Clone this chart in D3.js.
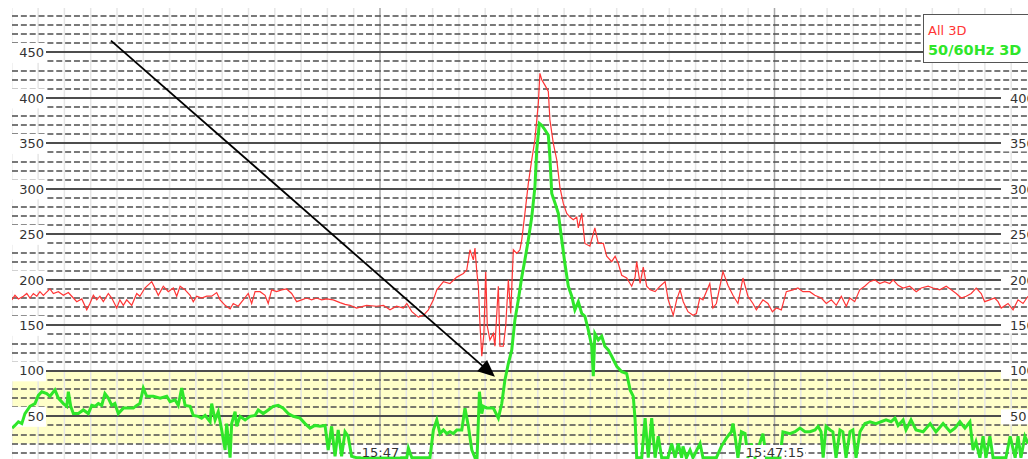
<!DOCTYPE html>
<html>
<head>
<meta charset="utf-8">
<script src="https://cdn.jsdelivr.net/npm/d3@7"></script>
<style>
  html, body { margin: 0; padding: 0; background: #fff; overflow: hidden; }
  text { font-family: "DejaVu Sans", Verdana, sans-serif; }
</style>
</head>
<body>
<svg id="chart" width="1028" height="459"></svg>
<script>
// ---- data ---------------------------------------------------------------
const parseClock = d3.timeParse("%H:%M:%S");
const windowStart = "15:46:46";          // left edge of the trace window
const windowSeconds = 39;                // length of the trace window

const seriesNames = ["All 3D", "50/60Hz 3D"];
const seriesColors = ["#ff3535", "#2fe62a"];

const valueTicks = [50, 100, 150, 200, 250, 300, 350, 400, 450];
const valueTickLabels = ["50", "100", "150", "200", "250", "300", "350", "400", "450"];
const timeTicks = ["15:47:00", "15:47:15"];
const timeTickLabels = ["15:47", "15:47:15"];
const limitBand = [20, 100];             // shaded band of the 50/60Hz level

// [seconds after windowStart, level]
const all3D = [
  [0,178],[0.12,183],[0.25,179],[0.44,182],[0.57,185],[0.69,180],[0.82,185],[0.95,182],[1.07,187],[1.20,183],
  [1.45,190],[1.58,185],[1.77,187],[1.96,183],[2.15,186],[2.28,182],[2.47,176],[2.66,179],[2.85,167],[2.97,174],
  [3.10,183],[3.23,178],[3.35,182],[3.48,176],[3.67,185],[3.80,180],[3.99,169],[4.11,178],[4.24,172],[4.37,178],
  [4.56,172],[4.75,185],[4.87,182],[5.06,191],[5.32,198],[5.44,191],[5.57,183],[5.76,193],[5.95,187],[6.14,191],
  [6.27,182],[6.40,193],[6.59,189],[6.78,183],[6.90,176],[7.03,182],[7.22,180],[7.41,182],[7.60,182],[7.79,186],
  [7.92,178],[8.11,172],[8.30,168],[8.42,174],[8.61,171],[8.80,178],[8.99,185],[9.12,174],[9.25,187],[9.44,187],
  [9.63,183],[9.75,174],[9.88,189],[10.07,187],[10.26,189],[10.45,190],[10.64,185],[10.83,176],[11.02,178],[11.21,180],
  [11.40,178],[11.59,180],[11.78,178],[11.97,179],[12.22,178],[12.48,175],[12.67,173],[12.86,172],[13.11,169],[13.49,172],
  [13.87,171],[14.13,172],[14.38,167],[14.63,171],[14.89,169],[15.02,174],[15.21,165],[15.46,159],[15.65,161],[15.84,167],
  [16.03,178],[16.16,189],[16.41,198],[16.66,196],[16.92,203],[17.17,207],[17.30,211],[17.42,233],[17.55,222],[17.61,235],
  [17.68,209],[17.74,193],[17.80,152],[17.87,116],[17.95,141],[18.02,209],[18.08,149],[18.18,134],[18.31,141],[18.37,127],
  [18.50,193],[18.56,127],[18.69,127],[18.78,149],[18.88,200],[18.97,163],[19.07,233],[19.20,229],[19.32,233],[19.39,244],
  [19.51,273],[19.64,306],[19.77,332],[19.89,354],[20.02,394],[20.08,427],[20.15,420],[20.27,414],[20.40,407],[20.46,376],
  [20.59,350],[20.72,332],[20.84,302],[20.97,284],[21.10,273],[21.22,269],[21.35,266],[21.48,269],[21.54,257],[21.67,273],
  [21.79,240],[21.98,237],[22.17,257],[22.30,240],[22.49,240],[22.62,226],[22.81,220],[22.94,226],[23.06,218],[23.19,205],
  [23.38,202],[23.57,193],[23.70,203],[23.76,220],[23.89,196],[24.01,214],[24.14,193],[24.27,189],[24.46,187],[24.65,193],
  [24.84,198],[24.96,178],[25.15,161],[25.28,178],[25.41,189],[25.53,176],[25.71,165],[25.90,161],[26.03,163],[26.16,180],
  [26.28,178],[26.54,196],[26.66,169],[26.79,174],[27.04,209],[27.23,194],[27.42,183],[27.61,174],[27.80,202],[27.99,182],
  [28.18,174],[28.31,167],[28.56,178],[28.75,174],[28.92,165],[29.07,169],[29.26,167],[29.45,187],[29.70,189],[29.89,191],
  [30.08,187],[30.34,187],[30.53,183],[30.78,180],[30.97,174],[31.16,178],[31.35,172],[31.54,182],[31.73,171],[31.86,180],
  [32.05,176],[32.24,189],[32.43,193],[32.62,198],[32.81,200],[33.00,196],[33.19,198],[33.38,196],[33.51,200],[33.70,194],
  [33.89,191],[34.14,193],[34.39,187],[34.58,191],[34.84,193],[35.03,191],[35.28,189],[35.53,193],[35.72,189],[35.91,185],
  [36.10,180],[36.29,182],[36.48,185],[36.67,191],[36.86,185],[36.99,176],[37.18,178],[37.37,180],[37.50,176],[37.62,169],
  [37.88,174],[38.07,167],[38.26,178],[38.45,174],[38.64,182]
];

const hum3D = [
  [0.01,37],[0.12,40],[0.25,44],[0.38,42],[0.50,53],[0.69,61],[0.88,64],[1.01,73],[1.14,77],[1.33,75],
  [1.45,72],[1.64,79],[1.77,70],[1.96,64],[2.09,61],[2.15,77],[2.24,61],[2.34,53],[2.53,53],[2.72,57],
  [2.91,53],[3.04,62],[3.16,61],[3.29,64],[3.42,62],[3.54,75],[3.67,70],[3.80,62],[3.92,64],[4.05,53],
  [4.24,59],[4.43,59],[4.62,59],[4.75,62],[4.87,64],[5.00,81],[5.13,72],[5.38,72],[5.64,70],[5.89,72],
  [6.02,66],[6.21,68],[6.33,62],[6.46,81],[6.59,62],[6.78,61],[6.90,51],[7.09,50],[7.22,48],[7.35,51],
  [7.54,44],[7.60,64],[7.73,46],[7.85,55],[7.98,35],[8.11,13],[8.17,42],[8.30,4.5],[8.36,42],[8.49,55],
  [8.55,39],[8.68,50],[8.87,46],[9.06,50],[9.25,51],[9.37,57],[9.56,53],[9.75,57],[9.94,61],[10.13,62],
  [10.32,59],[10.51,53],[10.70,50],[10.96,48],[11.15,42],[11.34,37],[11.53,40],[11.72,39],[11.91,40],[12.03,13],
  [12.16,39],[12.29,6],[12.41,35],[12.54,6],[12.67,33],[12.79,28],[12.92,6],[13.11,4.5],[15.02,4.5],[15.08,15],
  [15.21,4.5],[15.90,4.5],[16.03,35],[16.16,46],[16.28,31],[16.41,35],[16.54,31],[16.66,33],[16.79,31],[16.92,35],
  [17.11,35],[17.23,59],[17.36,39],[17.49,13],[17.61,4.5],[17.69,4.5],[17.78,77],[17.87,53],[17.93,61],[18.06,59],
  [18.31,59],[18.50,48],[18.63,64],[18.75,90],[18.88,108],[19.01,123],[19.13,156],[19.26,178],[19.39,203],[19.51,222],
  [19.64,244],[19.77,269],[19.89,302],[19.96,343],[20.06,372],[20.15,370],[20.27,365],[20.40,359],[20.46,335],[20.53,295],
  [20.66,284],[20.78,273],[20.91,244],[21.03,218],[21.16,193],[21.29,182],[21.41,167],[21.54,176],[21.67,163],[21.79,160],
  [21.92,145],[22.05,127],[22.11,94],[22.17,141],[22.30,134],[22.43,138],[22.55,127],[22.68,123],[22.81,116],[23.00,105],
  [23.19,99],[23.38,97],[23.51,79],[23.63,72],[23.70,46],[23.76,4.5],[23.95,4.5],[24.08,48],[24.20,4.5],[24.33,48],
  [24.46,4.5],[24.58,28],[24.71,4.5],[24.95,4.5],[25.09,20],[25.22,4.5],[25.34,20],[25.47,4.5],[25.52,17],[25.65,4.5],
  [25.79,13],[25.90,4.5],[26.17,20],[26.28,4.5],[26.79,4.5],[26.98,17],[27.17,26],[27.36,33],[27.42,42],[27.50,28],
  [27.61,4.5],[27.74,33],[27.88,31],[27.99,4.5],[28.12,20],[28.26,4.5],[28.56,31],[28.69,4.5],[29.21,4.5],[29.32,33],
  [29.59,31],[29.78,33],[29.97,37],[30.16,33],[30.35,33],[30.54,35],[30.66,39],[30.77,33],[30.85,4.5],[30.96,39],
  [31.11,35],[31.22,33],[31.34,4.5],[31.49,35],[31.60,33],[31.72,4.5],[31.87,33],[31.98,35],[32.10,4.5],[32.25,33],
  [32.44,42],[32.63,44],[32.86,42],[33.05,44],[33.24,46],[33.43,44],[33.58,48],[33.70,40],[33.89,46],[34.00,35],
  [34.19,46],[34.38,35],[34.65,33],[34.92,42],[35.14,33],[35.41,42],[35.68,33],[35.86,37],[36.05,44],[36.24,37],
  [36.43,44],[36.55,13],[36.66,22],[36.81,4.5],[36.93,28],[37.04,4.5],[37.19,28],[37.31,4.5],[37.80,4.5],[37.96,28],
  [38.15,4.5],[38.26,28],[38.37,4.5],[38.52,28],[38.64,20]
];

// annotation arrow: [seconds after windowStart, level]
const arrowFrom = [3.77, 463];
const arrowTo = [18.37, 93.5];

// ---- layout -------------------------------------------------------------
const W = 1028, H = 459;
const plot = { left: 12, top: 8, right: 1028, bottom: 459 };
const secPx = 26.3;

const t0 = parseClock(windowStart);
const at = s => new Date(+t0 + s * 1000);

const x = d3.scaleTime()
  .domain([t0, at(windowSeconds)])
  .range([11.8, 11.8 + windowSeconds * secPx]);
const y = d3.scaleLinear().domain([0, 500]).range([461.8, 6.9]);

const svg = d3.select("#chart");

svg.append("defs").append("clipPath").attr("id", "plotClip")
  .append("rect")
  .attr("x", plot.left).attr("y", plot.top)
  .attr("width", plot.right - plot.left).attr("height", plot.bottom - plot.top);

const grid = svg.append("g").attr("clip-path", "url(#plotClip)");

// shaded limit band
grid.append("rect")
  .attr("x", plot.left).attr("width", plot.right - plot.left)
  .attr("y", y(limitBand[1])).attr("height", y(limitBand[0]) - y(limitBand[1]))
  .attr("fill", "#ffffc9");

// vertical grid: every second faint, every 15 s darker
const seconds = x.ticks(d3.timeSecond.every(1));
grid.selectAll("line.vsec")
  .data(seconds.filter(d => d.getSeconds() % 15 !== 0))
  .join("line").attr("class", "vsec")
  .attr("x1", d => x(d)).attr("x2", d => x(d))
  .attr("y1", plot.top).attr("y2", plot.bottom)
  .attr("stroke", "#e6e6e6").attr("stroke-width", 1.5);
grid.selectAll("line.vmaj")
  .data(seconds.filter(d => d.getSeconds() % 15 === 0))
  .join("line").attr("class", "vmaj")
  .attr("x1", d => x(d)).attr("x2", d => x(d))
  .attr("y1", plot.top).attr("y2", plot.bottom)
  .attr("stroke", "#a8a8a8").attr("stroke-width", 1.5);

// horizontal grid: dashed every 10, solid every 50
const minorLevels = d3.range(10, 500, 10).filter(v => v % 50 !== 0);
grid.selectAll("line.hmin")
  .data(minorLevels)
  .join("line").attr("class", "hmin")
  .attr("x1", plot.left).attr("x2", plot.right)
  .attr("y1", d => Math.round(y(d))).attr("y2", d => Math.round(y(d)))
  .attr("stroke", "#4d4d4d").attr("stroke-width", 1.6)
  .attr("stroke-dasharray", "6,2.85");
grid.selectAll("line.hmaj")
  .data(valueTicks)
  .join("line").attr("class", "hmaj")
  .attr("x1", plot.left).attr("x2", plot.right)
  .attr("y1", d => Math.round(y(d))).attr("y2", d => Math.round(y(d)))
  .attr("stroke", "#4d4d4d").attr("stroke-width", 2);

// left value axis
const leftAxis = svg.append("g")
  .attr("transform", "translate(46,0)")
  .call(d3.axisLeft(y).tickValues(valueTicks)
    .tickFormat((d, i) => valueTickLabels[i]).tickSize(0).tickPadding(2));
leftAxis.select(".domain").remove();
leftAxis.selectAll(".tick")
  .insert("rect", "text")
  .attr("x", -34).attr("y", -10).attr("width", 34).attr("height", 20)
  .attr("fill", "#fff");
leftAxis.selectAll(".tick text")
  .attr("fill", "#333").style("font-size", "13px");

// right value axis (runs off the edge of the view; the top tick sits under the legend)
const rightTicks = valueTicks.slice(0, -1);
const rightAxis = svg.append("g")
  .attr("transform", "translate(1001,0)")
  .call(d3.axisRight(y).tickValues(rightTicks)
    .tickFormat((d, i) => valueTickLabels[i]).tickSize(0).tickPadding(9));
rightAxis.select(".domain").remove();
rightAxis.selectAll(".tick")
  .insert("rect", "text")
  .attr("x", 0).attr("y", -7.5).attr("width", 30).attr("height", 15)
  .attr("fill", "#fff");
rightAxis.selectAll(".tick text")
  .attr("fill", "#333").style("font-size", "13px");

// traces
const line = d3.line()
  .x(d => x(at(d[0])))
  .y(d => y(d[1]));

const traces = svg.append("g").attr("clip-path", "url(#plotClip)");
traces.append("path")
  .datum(all3D)
  .attr("d", line)
  .attr("fill", "none")
  .attr("stroke", seriesColors[0])
  .attr("stroke-width", 1.2)
  .attr("stroke-linejoin", "miter");
traces.append("path")
  .datum(hum3D)
  .attr("d", line)
  .attr("fill", "none")
  .attr("stroke", seriesColors[1])
  .attr("stroke-width", 3)
  .attr("stroke-linejoin", "miter");

// time axis, labelled on a white patch above the traces
const timeAxis = svg.append("g")
  .attr("transform", "translate(0,448)")
  .call(d3.axisBottom(x).tickValues(timeTicks.map(parseClock))
    .tickFormat((d, i) => timeTickLabels[i]).tickSize(0).tickPadding(0));
timeAxis.select(".domain").remove();
timeAxis.selectAll(".tick text")
  .attr("fill", "#333").style("font-size", "13px");
timeAxis.selectAll(".tick").each(function () {
  const g = d3.select(this);
  const w = g.select("text").node().getComputedTextLength();
  g.insert("rect", "text")
    .attr("x", -w / 2 - 1).attr("y", -3).attr("width", w + 2).attr("height", 11.5)
    .attr("fill", "#fff");
});

// annotation arrow
const p0 = [x(at(arrowFrom[0])), y(arrowFrom[1])];
const p1 = [x(at(arrowTo[0])), y(arrowTo[1])];
const dx = p1[0] - p0[0], dy = p1[1] - p0[1];
const len = Math.hypot(dx, dy);
const ux = dx / len, uy = dy / len;
const headLen = 17, headHalf = 7.5;
const base = [p1[0] - ux * headLen, p1[1] - uy * headLen];
svg.append("line")
  .attr("x1", p0[0]).attr("y1", p0[1])
  .attr("x2", base[0] + ux * 2).attr("y2", base[1] + uy * 2)
  .attr("stroke", "#000").attr("stroke-width", 1.8);
svg.append("polygon")
  .attr("points", [
    p1,
    [base[0] - uy * headHalf, base[1] + ux * headHalf],
    [base[0] + uy * headHalf, base[1] - ux * headHalf]
  ].map(p => p.join(",")).join(" "))
  .attr("fill", "#000");

// legend
const legend = svg.append("g").attr("transform", "translate(923,14)");
legend.append("rect")
  .attr("x", 0.5).attr("y", 0.5).attr("width", 130).attr("height", 48)
  .attr("fill", "#fff").attr("stroke", "#555").attr("stroke-width", 1);
legend.append("text")
  .attr("x", 5).attr("y", 21)
  .attr("fill", seriesColors[0])
  .style("font-size", "13px")
  .text(seriesNames[0]);
legend.append("text")
  .attr("x", 5).attr("y", 41)
  .attr("fill", seriesColors[1])
  .style("font-size", "14.5px").style("font-weight", "bold")
  .text(seriesNames[1]);
</script>
</body>
</html>
